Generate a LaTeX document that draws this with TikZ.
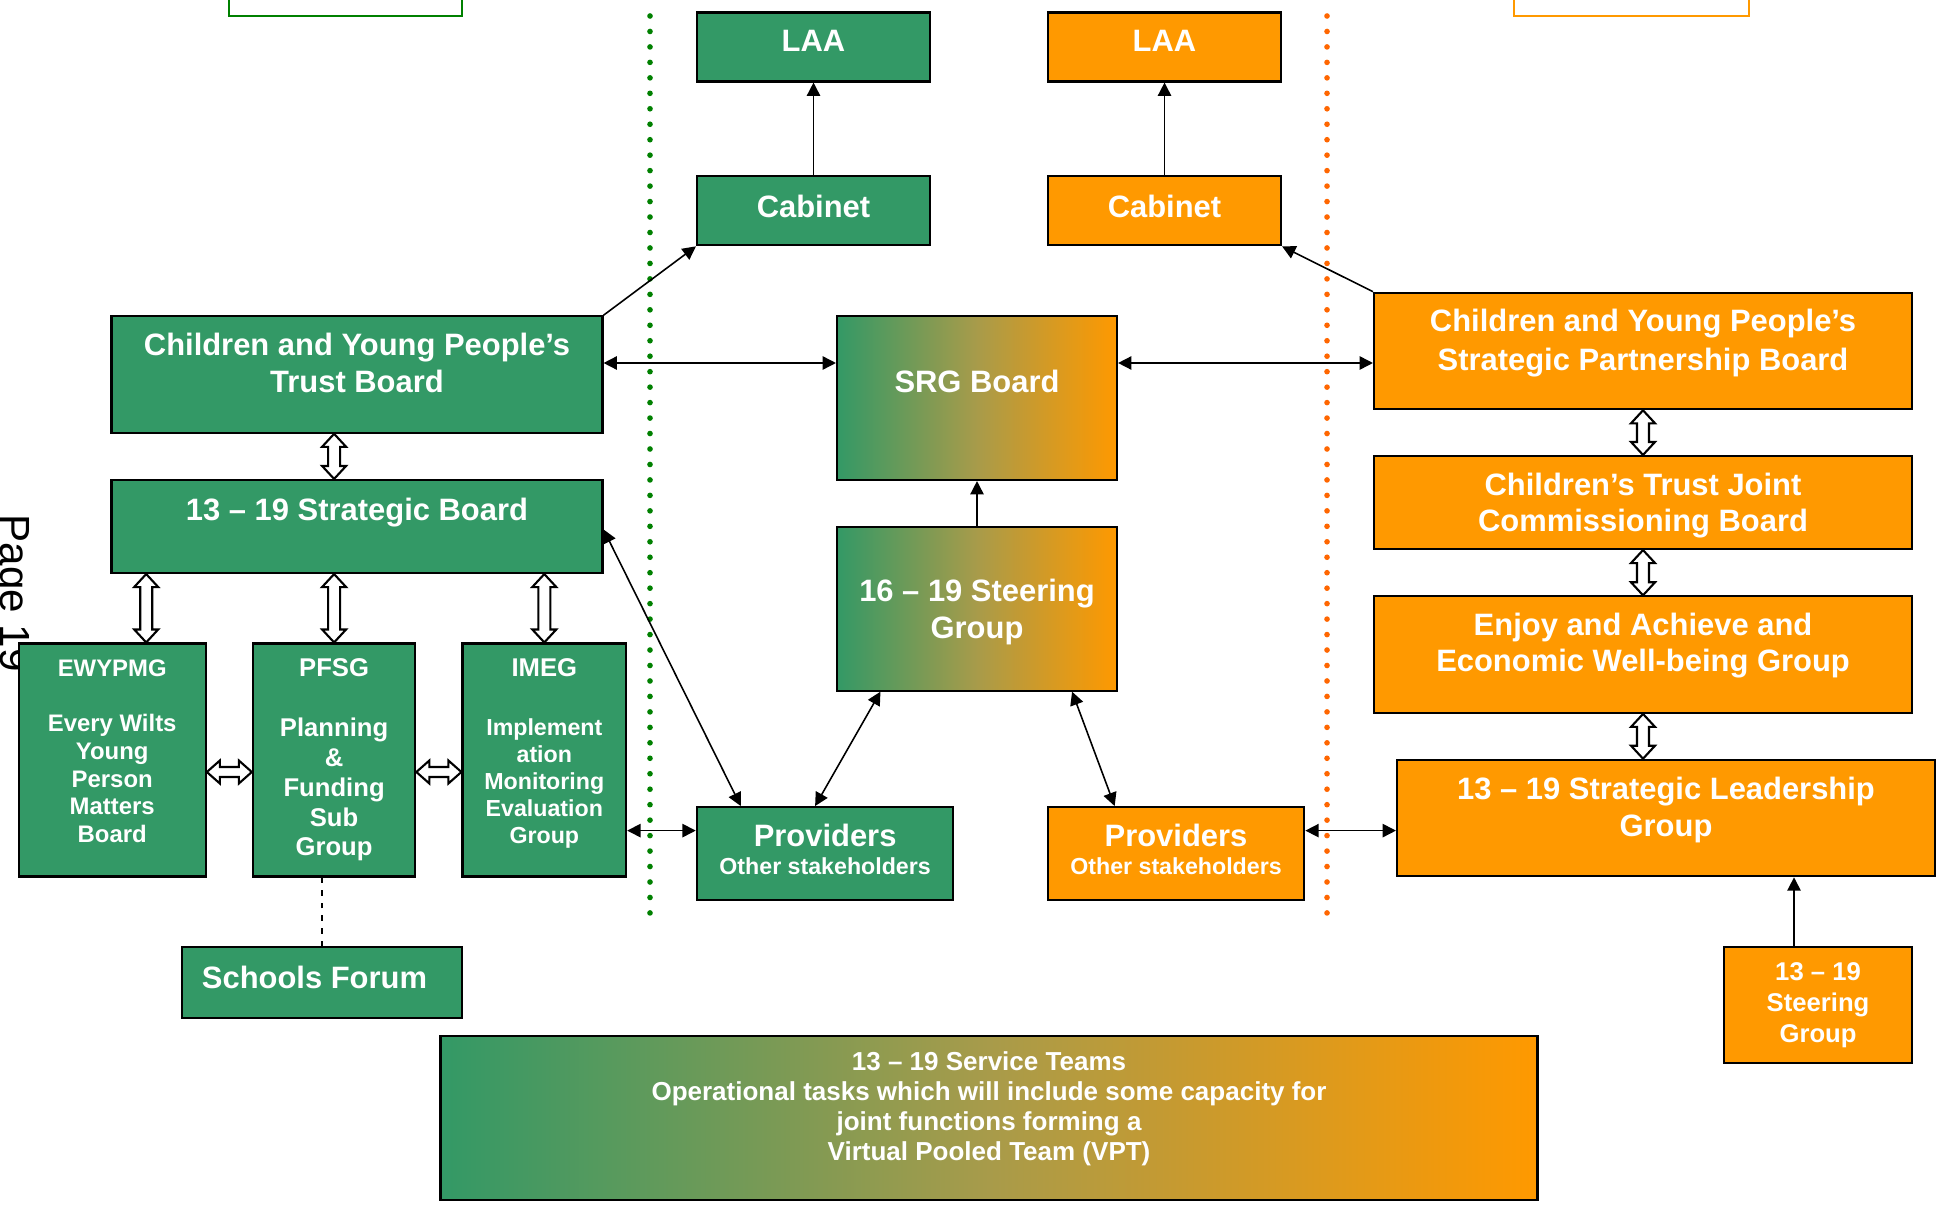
\documentclass[tikz,border=0pt]{standalone}
\usepackage{fontspec}
\setmainfont{Liberation Sans}
\usetikzlibrary{arrows.meta,calc}

\definecolor{trustgreen}{HTML}{339966}
\definecolor{trustorange}{HTML}{FF9900}
\definecolor{trustmid}{HTML}{A89B4A}
\definecolor{dotgreen}{HTML}{008000}
\definecolor{dotorange}{HTML}{FF6600}

\tikzset{
  box/.style={draw=black, line width=0.6pt, text=white, align=center, inner sep=0pt},
  gbox/.style={box, fill=trustgreen},
  obox/.style={box, fill=trustorange},
  mbox/.style={box, left color=trustgreen, right color=trustorange, middle color=trustmid},
  bigtext/.style={font=\bfseries\fontsize{8.8}{10.4}\selectfont},
  link/.style={line width=0.45pt, -{Triangle[length=3.8pt,width=3.8pt]}},
  twoway/.style={line width=0.45pt, {Triangle[length=3.8pt,width=3.8pt]}-{Triangle[length=3.8pt,width=3.8pt]}},
  blockarrow/.style={draw=black, fill=white, line width=0.6pt},
  divider/.style={line width=1.6pt, line cap=round, dash pattern=on 0pt off 4.4pt},
}

% hollow two-headed block arrows, top to bottom and left to right
\newcommand{\vblock}[2]{%
  \draw[blockarrow] let \p1=(#1), \p2=(#2) in
    (\x1,\y1) -- (\x1+0.12cm,\y1-0.13cm) -- (\x1+0.06cm,\y1-0.13cm)
    -- (\x1+0.06cm,\y2+0.13cm) -- (\x1+0.12cm,\y2+0.13cm) -- (\x1,\y2)
    -- (\x1-0.12cm,\y2+0.13cm) -- (\x1-0.06cm,\y2+0.13cm)
    -- (\x1-0.06cm,\y1-0.13cm) -- (\x1-0.12cm,\y1-0.13cm) -- cycle;}
\newcommand{\hblock}[2]{%
  \draw[blockarrow] let \p1=(#1), \p2=(#2) in
    (\x1,\y1) -- (\x1+0.13cm,\y1+0.115cm) -- (\x1+0.13cm,\y1+0.05cm)
    -- (\x2-0.13cm,\y1+0.05cm) -- (\x2-0.13cm,\y1+0.115cm) -- (\x2,\y1)
    -- (\x2-0.13cm,\y1-0.115cm) -- (\x2-0.13cm,\y1-0.05cm)
    -- (\x1+0.13cm,\y1-0.05cm) -- (\x1+0.13cm,\y1-0.115cm) -- cycle;}

\begin{document}
\begin{tikzpicture}
\useasboundingbox (0,0) rectangle (19.44,-12.07);

\node[rotate=-90, anchor=base west, inner sep=0pt, font=\fontsize{12}{14}\selectfont] (pagenum) at (0.01,-5.14) {Page 19};

% frames cut off by the top edge
\draw[dotgreen, line width=0.6pt] (2.29,0.3) rectangle (4.62,-0.16);
\draw[trustorange, line width=0.6pt] (15.14,0.3) rectangle (17.49,-0.16);

% dotted dividers
\draw[divider, dotgreen] (6.50,-0.16) -- (6.50,-9.15);
\draw[divider, dotorange] (13.27,-0.16) -- (13.27,-9.15);

% LAA and Cabinet
\node[gbox, bigtext, minimum width=2.33cm, minimum height=0.69cm, text depth=3.4pt] (laag) at (8.135,-0.47) {LAA};
\node[obox, bigtext, minimum width=2.33cm, minimum height=0.69cm, text depth=3.4pt] (laao) at (11.645,-0.47) {LAA};
\node[gbox, bigtext, minimum width=2.33cm, minimum height=0.69cm, text depth=2.8pt] (cabg) at (8.135,-2.108) {Cabinet};
\node[obox, bigtext, minimum width=2.33cm, minimum height=0.69cm, text depth=2.8pt] (cabo) at (11.645,-2.108) {Cabinet};

% boards
\node[gbox, bigtext, minimum width=4.91cm, minimum height=1.165cm, text depth=6.8pt] (tb) at (3.57,-3.745) {Children and Young People's\\Trust Board};
\node[mbox, bigtext, minimum width=2.80cm, minimum height=1.64cm, text depth=9.7pt] (srg) at (9.77,-3.98) {SRG Board};
\node[obox, bigtext, minimum width=5.38cm, minimum height=1.165cm, text depth=6.4pt, font=\bfseries\fontsize{8.8}{11}\selectfont] (spb) at (16.43,-3.51) {Children and Young People's\\Strategic Partnership Board};
\node[gbox, bigtext, minimum width=4.91cm, minimum height=0.93cm, text depth=9.6pt] (sb) at (3.57,-5.265) {13 -- 19 Strategic Board};
\node[obox, bigtext, minimum width=5.38cm, minimum height=0.93cm, text depth=0pt] (ct) at (16.43,-5.025) {Children's Trust Joint\\Commissioning Board};
\node[mbox, bigtext, minimum width=2.80cm, minimum height=1.636cm, text depth=0pt] (ssg) at (9.77,-6.088) {16 -- 19 Steering\\Group};
\node[obox, bigtext, minimum width=5.38cm, minimum height=1.165cm, text depth=7pt] (ea) at (16.43,-6.546) {Enjoy and Achieve and\\Economic Well-being Group};

% sub groups
\node[gbox, minimum width=1.872cm, minimum height=2.33cm, text depth=5.1pt, font=\bfseries\fontsize{6.8}{7.9}\selectfont] (ew) at (1.122,-7.60) {EWYPMG\\[7.9pt]Every Wilts\\Young\\Person\\Matters\\Board};
\node[gbox, minimum width=1.624cm, minimum height=2.33cm, font=\bfseries\fontsize{7.3}{8.5}\selectfont] (pf) at (3.341,-7.60) {PFSG\\[8.5pt]Planning\\\&\\Funding\\Sub\\Group};
\node[gbox, minimum width=1.637cm, minimum height=2.33cm, text depth=5.1pt, font=\bfseries\fontsize{6.6}{7.7}\selectfont] (im) at (5.443,-7.60) {{\fontsize{7.3}{7.7}\selectfont IMEG}\\[9.1pt]Implement\\ation\\Monitoring\\Evaluation\\Group};

% providers
\node[gbox, bigtext, minimum width=2.566cm, minimum height=0.93cm, text depth=2.3pt] (provg) at (8.251,-8.536) {Providers\\[-2.5pt]{\fontsize{6.6}{8.8}\selectfont Other stakeholders}};
\node[obox, bigtext, minimum width=2.566cm, minimum height=0.93cm, text depth=2.3pt] (provo) at (11.76,-8.536) {Providers\\[-2.5pt]{\fontsize{6.6}{8.8}\selectfont Other stakeholders}};
\node[obox, bigtext, minimum width=5.38cm, minimum height=1.165cm, text depth=6.4pt] (slg) at (16.66,-8.18) {13 -- 19 Strategic Leadership\\Group};

% bottom row
\node[gbox, bigtext, minimum width=2.80cm, minimum height=0.707cm, text depth=2.8pt] (sf) at (3.22,-9.826) {Schools Forum\hspace*{0.15cm}};
\node[obox, minimum width=1.872cm, minimum height=1.165cm, font=\bfseries\fontsize{7.3}{8.8}\selectfont] (st) at (18.18,-10.05) {13 -- 19\\Steering\\Group};
\node[mbox, minimum width=10.97cm, minimum height=1.636cm, text depth=6.8pt, font=\bfseries\fontsize{7.4}{8.5}\selectfont] (svc) at (9.89,-11.18) {13 -- 19 Service Teams\\Operational tasks which will include some capacity for\\joint functions forming a\\Virtual Pooled Team (VPT)};

% connectors
\coordinate (tbr) at ([yshift=0.115cm]tb.east);
\coordinate (pgl) at ([yshift=0.23cm]provg.west);
\coordinate (por) at ([yshift=0.23cm]provo.east);
\coordinate (stn) at ([xshift=-0.24cm]st.north);
\draw[link] (cabg) -- (laag);
\draw[link] (cabo) -- (laao);
\draw[link] (tb.north east) -- (cabg.south west);
\draw[link] (spb.north west) -- (cabo.south east);
\draw[twoway] (tbr) -- (tbr -| srg.west);
\draw[twoway] (tbr -| srg.east) -- (tbr -| spb.west);
\draw[link] (ssg) -- (srg);
\draw[twoway] ([yshift=-0.03cm]sb.east) -- ([xshift=0.45cm]provg.north west);
\draw[twoway] ([xshift=0.445cm]ssg.south west) -- ([xshift=-0.1cm]provg.north);
\draw[twoway] ([xshift=-0.46cm]ssg.south east) -- ([xshift=0.68cm]provo.north west);
\draw[twoway] (pgl -| im.east) -- (pgl);
\draw[twoway] (por) -- (por -| slg.west);
\draw[link] (stn) -- (stn |- slg.south);
\draw[line width=0.5pt, dash pattern=on 1.6pt off 2pt] (sf.north) -- (sf.north |- pf.south);

% block arrows
\coordinate (ewn) at ([xshift=0.34cm]ew.north);
\coordinate (ewe) at ([yshift=-0.12cm]ew.east);
\vblock{tb.south -| pf.north}{sb.north -| pf.north}
\vblock{sb.south -| ewn}{ewn}
\vblock{sb.south -| pf.north}{pf.north}
\vblock{sb.south -| im.north}{im.north}
\hblock{ewe}{ewe -| pf.west}
\hblock{ewe -| pf.east}{ewe -| im.west}
\vblock{spb.south}{ct.north}
\vblock{ct.south}{ea.north}
\vblock{ea.south}{ea.south |- slg.north}
\end{tikzpicture}
\end{document}
